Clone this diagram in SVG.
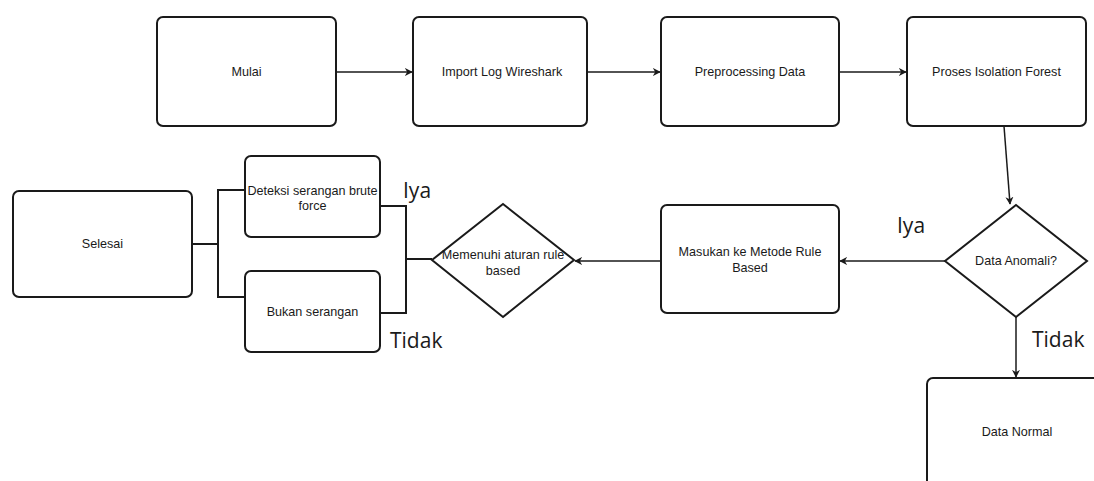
<svg xmlns="http://www.w3.org/2000/svg" width="1094" height="481" viewBox="0 0 1094 481">
<style>
.box{fill:#fff;stroke:#1a1a1a;stroke-width:2}
.t{font-family:"Liberation Sans",Arial,sans-serif;font-size:12.6px;fill:#1a1a1a;text-anchor:middle}
.lbl{font-family:"Open Sans","Noto Sans",sans-serif;font-size:21px;fill:#1a1a1a}
.c{fill:none;stroke:#1a1a1a;stroke-width:1.5}
.b{fill:none;stroke:#1a1a1a;stroke-width:2}
</style>
<defs>
<marker id="ah" viewBox="0 0 10 10" refX="9" refY="5" markerWidth="8" markerHeight="8" markerUnits="userSpaceOnUse" orient="auto">
<path d="M0,0 L10,5 L0,10 L3,5 Z" fill="#1a1a1a"/>
</marker>
</defs>
<rect width="1094" height="481" fill="#fff"/>
<g id="connectors">
<path class="c" d="M336,72 L412,72" marker-end="url(#ah)"/>
<path class="c" d="M587,72 L660,72" marker-end="url(#ah)"/>
<path class="c" d="M839,72 L906,72" marker-end="url(#ah)"/>
<path class="c" d="M1004,126 L1010,204" marker-end="url(#ah)"/>
<path class="c" d="M945,261 L840,261" marker-end="url(#ah)"/>
<path class="c" d="M661,261 L575,261" marker-end="url(#ah)"/>
<path class="c" d="M1016,317 L1016,377" marker-end="url(#ah)"/>
<path class="b" d="M432,259 L406,259"/>
<path class="b" d="M380,206 L406,206 L406,313 L380,313"/>
<path class="b" d="M192,244 L218,244"/>
<path class="b" d="M245,190 L218,190 L218,297 L245,297"/>
<text class="lbl" x="403" y="198">Iya</text>
<text class="lbl" x="390" y="348">Tidak</text>
<text class="lbl" x="897" y="233">Iya</text>
<text class="lbl" x="1032" y="347">Tidak</text>
</g>
<g id="mulai"><rect class="box" x="157" y="17" width="179" height="109" rx="6"/><text class="t" x="246.5" y="76">Mulai</text></g>
<g id="import"><rect class="box" x="413" y="17" width="174" height="109" rx="6"/><text class="t" x="502" y="76">Import Log Wireshark</text></g>
<g id="preprocessing"><rect class="box" x="661" y="17" width="178" height="109" rx="6"/><text class="t" x="750" y="76">Preprocessing Data</text></g>
<g id="isolation"><rect class="box" x="907" y="17" width="179" height="109" rx="6"/><text class="t" x="996.5" y="76">Proses Isolation Forest</text></g>
<g id="anomali"><path class="box" d="M1016,205 L1087,261 L1016,317 L945,261 Z"/><text class="t" x="1016" y="265">Data Anomali?</text></g>
<g id="normal"><rect class="box" x="927" y="378" width="180" height="115" rx="6"/><text class="t" x="1017" y="436">Data Normal</text></g>
<g id="masukan"><rect class="box" x="661" y="205" width="178" height="108" rx="6"/><text class="t" x="750" y="256">Masukan ke Metode Rule</text><text class="t" x="750" y="272">Based</text></g>
<g id="memenuhi"><path class="box" d="M503,204 L574,260 L503,317 L432,260 Z"/><text class="t" x="503" y="259">Memenuhi aturan rule</text><text class="t" x="503" y="275">based</text></g>
<g id="deteksi"><rect class="box" x="245" y="156" width="135" height="81" rx="6"/><text class="t" x="312.5" y="195">Deteksi serangan brute</text><text class="t" x="312.5" y="210">force</text></g>
<g id="bukan"><rect class="box" x="245" y="271" width="135" height="81" rx="6"/><text class="t" x="312.5" y="316">Bukan serangan</text></g>
<g id="selesai"><rect class="box" x="13" y="191" width="179" height="106" rx="6"/><text class="t" x="102.5" y="248">Selesai</text></g>
</svg>
